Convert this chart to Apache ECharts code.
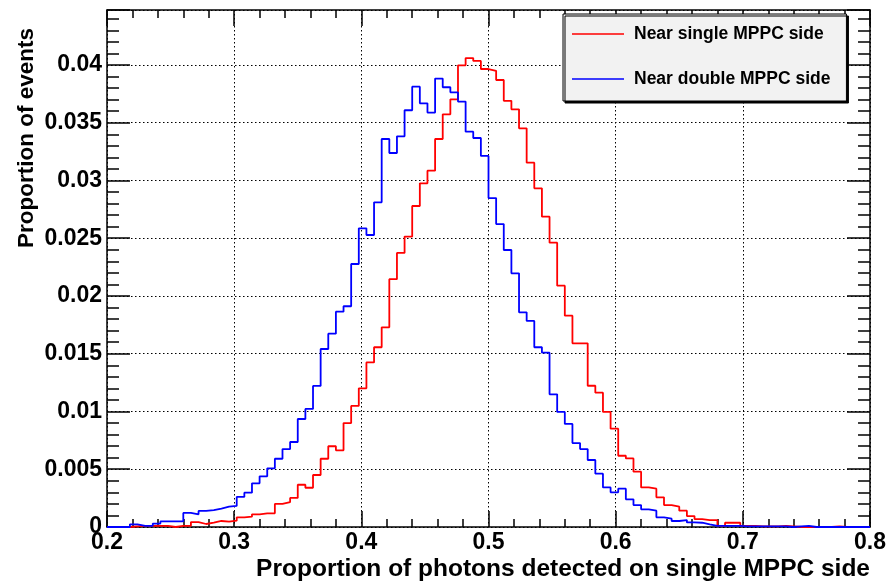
<!DOCTYPE html>
<html>
<head>
<meta charset="utf-8">
<script src="https://cdn.jsdelivr.net/npm/echarts@6/dist/echarts.min.js"></script>
<style>
  html, body { margin: 0; padding: 0; background: #fff; }
  #main { width: 889px; height: 582px; }
</style>
</head>
<body>
<div id="main"></div>
<script>
// histogram range and binning (100 bins of 0.006 between 0.2 and 0.8)
var xMin = 0.2;
var xMax = 0.8;
var binWidth = 0.006;

var seriesNames = ['Near single MPPC side', 'Near double MPPC side'];

// bin contents
var nearSingle = [
  0, 0, 0, 0.00005, 0.0001, 0.0001, 0.0001, 0.0001, 0, 0.0001,
  0.0001, 0.00043, 0.00026, 0.00038, 0.00052, 0.00046, 0.00055, 0.00084, 0.00089, 0.0011,
  0.00118, 0.00118, 0.002, 0.00216, 0.00252, 0.00366, 0.0034, 0.0045, 0.00591, 0.00699,
  0.00664, 0.009, 0.01048, 0.01201, 0.01425, 0.01556, 0.01729, 0.02146, 0.02373, 0.02514,
  0.02779, 0.02975, 0.03085, 0.03359, 0.03573, 0.03703, 0.03997, 0.0406, 0.04035, 0.03965,
  0.0395, 0.0387, 0.0369, 0.03616, 0.03452, 0.03154, 0.02932, 0.02687, 0.02462, 0.02089,
  0.0183, 0.0159, 0.0159, 0.01223, 0.01163, 0.00996, 0.00851, 0.00617, 0.00594, 0.00479,
  0.00343, 0.00332, 0.00257, 0.0019, 0.00176, 0.00141, 0.00095, 0.00069, 0.0006, 0.0006,
  0.0001, 0.00037, 0.00037, 0.0001, 0.0001, 0.00005, 0.00005, 0.00005, 0.0001, 0.00005,
  0, 0, 0, 0, 0, 0.00005, 0, 0, 0, 0
];

var nearDouble = [
  0, 0, 0, 0.00023, 0.0001, 0.0001, 0.0003, 0.00048, 0.00048, 0.00048,
  0.00122, 0.0011, 0.00139, 0.00147, 0.0016, 0.00176, 0.00182, 0.0026, 0.00297, 0.00378,
  0.00439, 0.00508, 0.00591, 0.00675, 0.00736, 0.00935, 0.01022, 0.01221, 0.01541, 0.01674,
  0.01864, 0.01911, 0.02277, 0.02586, 0.02528, 0.02811, 0.03359, 0.03238, 0.03382, 0.03608,
  0.03812, 0.03668, 0.03588, 0.03882, 0.03807, 0.03763, 0.03683, 0.03423, 0.03368, 0.03213,
  0.02848, 0.02623, 0.02398, 0.02196, 0.01859, 0.01784, 0.01556, 0.01509, 0.01149, 0.00996,
  0.00892, 0.00727, 0.00675, 0.0058, 0.00462, 0.00343, 0.003, 0.00332, 0.0024, 0.0019,
  0.00153, 0.00141, 0.00084, 0.00072, 0.00052, 0.0006, 0.0004, 0.00037, 0.00023, 0.0001,
  0.0001, 0.0001, 0.0001, 0.00005, 0.00005, 0.00005, 0.00005, 0.00005, 0.00005, 0,
  0.00005, 0.0001, 0, 0, 0, 0, 0, 0, 0, 0
];

var yMax = 0.04476;

// turn bin contents into [leftEdge, value] points for a step line
function toSteps(values) {
  var pts = [];
  for (var i = 0; i < values.length; i++) {
    pts.push([+(xMin + i * binWidth).toFixed(4), values[i]]);
  }
  pts.push([xMax, values[values.length - 1]]);
  return pts;
}

var font = 'Liberation Sans, Arial, Helvetica, sans-serif';
var chart = echarts.init(document.getElementById('main'), null, { renderer: 'canvas' });

var gridDots = { show: true, lineStyle: { color: '#000', width: 1, type: [1.5, 2.5] } };
var frame = { show: true, onZero: false, lineStyle: { color: '#000', width: 1.5 } };

var option = {
  animation: false,
  backgroundColor: '#fff',
  grid: { left: 107, right: 18, top: 10, bottom: 55, containLabel: false },
  legend: {
    left: 563,
    top: 14,
    orient: 'vertical',
    data: seriesNames,
    icon: 'rect',
    itemWidth: 52,
    itemHeight: 1.5,
    itemGap: 25,
    padding: [10, 16, 12, 9],
    backgroundColor: '#f2f2f2',
    borderColor: '#000',
    borderWidth: 1,
    shadowColor: '#000',
    shadowBlur: 0,
    shadowOffsetX: 2,
    shadowOffsetY: 2,
    textStyle: {
      fontFamily: font, fontWeight: 'bold', fontSize: 17.5, color: '#000',
      lineHeight: 20, padding: [0, 0, 0, 5]
    }
  },
  xAxis: [{
    type: 'value', min: xMin, max: xMax, interval: 0.1,
    axisLine: frame,
    axisTick: { show: true, inside: true, length: 16, lineStyle: { color: '#000', width: 1.5 } },
    minorTick: { show: true, splitNumber: 5, length: 8, lineStyle: { color: '#000', width: 1.5 } },
    axisLabel: { fontFamily: font, fontWeight: 'bold', fontSize: 23, color: '#000', margin: 4 },
    splitLine: gridDots
  }, {
    type: 'value', position: 'top', min: xMin, max: xMax, interval: 0.1,
    axisLine: frame,
    axisTick: { show: true, inside: true, length: 16, lineStyle: { color: '#000', width: 1.5 } },
    minorTick: { show: true, splitNumber: 5, length: 8, lineStyle: { color: '#000', width: 1.5 } },
    axisLabel: { show: false },
    splitLine: { show: false }
  }],
  yAxis: [{
    type: 'value', min: 0, max: yMax, interval: 0.005,
    axisLine: frame,
    axisTick: { show: true, inside: true, length: 23, lineStyle: { color: '#000', width: 1.5 } },
    minorTick: { show: true, splitNumber: 5, length: 12, lineStyle: { color: '#000', width: 1.5 } },
    axisLabel: { fontFamily: font, fontWeight: 'bold', fontSize: 23, color: '#000', margin: 5, showMaxLabel: false },
    splitLine: gridDots
  }, {
    type: 'value', position: 'right', min: 0, max: yMax, interval: 0.005,
    axisLine: frame,
    axisTick: { show: true, inside: true, length: 23, lineStyle: { color: '#000', width: 1.5 } },
    minorTick: { show: true, splitNumber: 5, length: 12, lineStyle: { color: '#000', width: 1.5 } },
    axisLabel: { show: false },
    splitLine: { show: false }
  }],
  series: [{
    name: seriesNames[0], type: 'line', step: 'end', symbol: 'none',
    xAxisIndex: 0, yAxisIndex: 0,
    color: '#ff0000',
    lineStyle: { color: '#ff0000', width: 1.8 },
    data: toSteps(nearSingle), z: 3
  }, {
    name: seriesNames[1], type: 'line', step: 'end', symbol: 'none',
    xAxisIndex: 0, yAxisIndex: 0,
    color: '#0000ff',
    lineStyle: { color: '#0000ff', width: 1.8 },
    data: toSteps(nearDouble), z: 4
  }],
  graphic: [{
    type: 'text', x: 870, y: 569,
    style: {
      text: 'Proportion of photons detected on single MPPC side',
      font: 'bold 24.5px ' + font, fill: '#000', align: 'right', verticalAlign: 'middle'
    }
  }, {
    type: 'text', x: 27, y: 28, rotation: Math.PI / 2,
    style: {
      text: 'Proportion of events',
      font: 'bold 22.5px ' + font, fill: '#000', align: 'right', verticalAlign: 'middle'
    }
  }]
};

chart.setOption(option);
</script>
</body>
</html>
